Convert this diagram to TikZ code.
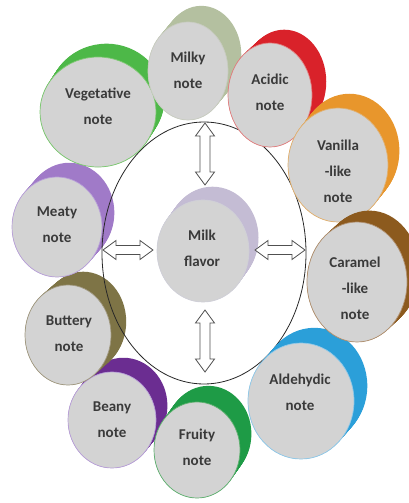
\documentclass[tikz,border=0pt]{standalone}
\usepackage{fontspec}
\setmainfont{Carlito}
\usetikzlibrary{shapes.geometric,calc}
\definecolor{frontgray}{RGB}{211,211,211}
\definecolor{txtcol}{RGB}{58,58,58}
\definecolor{ringcol}{RGB}{40,40,40}
\definecolor{arrcol}{RGB}{80,80,80}
\definecolor{milkycol}{RGB}{180,192,160}
\definecolor{milkybd}{RGB}{200,204,192}
\definecolor{acidcol}{RGB}{217,34,42}
\definecolor{acidbd}{RGB}{224,128,128}
\definecolor{vegcol}{RGB}{77,184,72}
\definecolor{vegbd}{RGB}{124,200,112}
\definecolor{vancol}{RGB}{232,150,44}
\definecolor{vanbd}{RGB}{224,176,112}
\definecolor{meatcol}{RGB}{160,122,200}
\definecolor{meatbd}{RGB}{184,160,216}
\definecolor{milkcol}{RGB}{196,188,212}
\definecolor{milkbd}{RGB}{208,208,216}
\definecolor{carcol}{RGB}{140,90,30}
\definecolor{carbd}{RGB}{176,144,112}
\definecolor{butcol}{RGB}{126,116,70}
\definecolor{butbd}{RGB}{160,152,128}
\definecolor{beancol}{RGB}{107,45,145}
\definecolor{beanbd}{RGB}{184,160,216}
\definecolor{fruitcol}{RGB}{30,155,70}
\definecolor{fruitbd}{RGB}{96,176,112}
\definecolor{aldcol}{RGB}{43,159,217}
\definecolor{aldbd}{RGB}{144,200,232}
% #1 name, #2 cx, #3 cy, #4 rx, #5 ry, #6 dx, #7 dy, #8 back colour, #9 rim colour
\newcommand\flavcyl[9]{%
  \foreach \t in {0,0.05,...,1.0}{%
    \fill[#8] (#2+\t*#6,#3+\t*#7) ellipse [x radius=#4pt, y radius=#5pt];}
  \node[frontdisc, draw=#9, minimum width=2*#4pt, minimum height=2*#5pt] (#1) at (#2,#3) {};
}
% vertical block double arrow from #1 (top) to #2 (bottom)
\newcommand\vdarrow[2]{%
  \draw[blockarr] (#1) -- ($(#1)+(9.5,13)$) -- ($(#1)+(5,13)$) -- ($(#2)+(5,-13)$)
    -- ($(#2)+(9.5,-13)$) -- (#2) -- ($(#2)+(-9.5,-13)$) -- ($(#2)+(-5,-13)$)
    -- ($(#1)+(-5,13)$) -- ($(#1)+(-9.5,13)$) -- cycle;}
% horizontal block double arrow from #1 (left) to #2 (right)
\newcommand\hdarrow[2]{%
  \draw[blockarr] (#1) -- ($(#1)+(13,-9.5)$) -- ($(#1)+(13,-4.5)$) -- ($(#2)+(-13,-4.5)$)
    -- ($(#2)+(-13,-9.5)$) -- (#2) -- ($(#2)+(-13,9.5)$) -- ($(#2)+(-13,4.5)$)
    -- ($(#1)+(13,4.5)$) -- ($(#1)+(13,9.5)$) -- cycle;}
\begin{document}
\begin{tikzpicture}[x=1pt,y=-1pt,
  frontdisc/.style={ellipse, fill=frontgray, line width=0.7pt, inner sep=0pt, outer sep=0pt},
  lbl/.style={align=center, text=txtcol, font=\fontsize{15}{26}\selectfont\bfseries, inner sep=0pt},
  blockarr/.style={draw=arrcol, fill=white, line width=0.8pt, line join=miter},
  ring/.style={ellipse, draw=ringcol, line width=0.8pt, inner sep=0pt, outer sep=0pt,
    minimum width=204pt, minimum height=262pt}]
\useasboundingbox[fill=white] (0,0) rectangle (409,503);
% lower-left group
\flavcyl{beany}{112}{420}{44}{48}{12}{-15}{beancol}{beanbd}
\flavcyl{buttery}{68}{335}{43}{50}{16}{-14}{butcol}{butbd}
\flavcyl{meaty}{57}{227}{45}{50}{13}{-15}{meatcol}{meatbd}
\flavcyl{fruity}{197}{450}{43}{48}{12}{-17}{fruitcol}{fruitbd}
% central ring
\node[ring] (ring) at (204,253) {};
% upper and right group
\flavcyl{veg}{98}{112}{58}{55}{9}{-14}{vegcol}{vegbd}
\flavcyl{milky}{188}{71}{40}{49}{14}{-17}{milkycol}{milkybd}
\flavcyl{acidic}{270}{95}{42}{52}{15}{-14}{acidcol}{acidbd}
\flavcyl{vanilla}{338}{165}{50}{57}{12}{-15}{vancol}{vanbd}
\flavcyl{ald}{301}{401}{53}{58}{14}{-16}{aldcol}{aldbd}
\flavcyl{caramel}{357}{282}{50}{60}{13}{-12}{carcol}{carbd}
\flavcyl{milk}{203}{251}{46}{51}{10}{-14}{milkcol}{milkbd}
% labels
\node[lbl] (tmilky) at (188,70) {Milky\\note};
\node[lbl] (tacidic) at (270,92) {Acidic\\note};
\node[lbl] (tveg) at (98,106) {Vegetative\\note};
\node[lbl] (tvanilla) at (338,171.5) {Vanilla\\-like\\note};
\node[lbl] (tmeaty) at (57,224.5) {Meaty\\note};
\node[lbl] (tmilk) at (202,248.5) {Milk\\flavor};
\node[lbl] (tcaramel) at (355,288.5) {Caramel\\-like\\note};
\node[lbl] (tbuttery) at (69,334) {Buttery\\note};
\node[lbl] (tbeany) at (112,419.5) {Beany\\note};
\node[lbl] (tfruity) at (197,447.5) {Fruity\\note};
\node[lbl] (tald) at (300,392.5) {Aldehydic\\note};
% arrow end points, tied to the ring and the centre node
\coordinate (at1) at ($(ring.north)+(1,1)$);
\coordinate (at2) at ($(milk.north)+(2,-15)$);
\coordinate (ab1) at ($(milk.south)+(2,8)$);
\coordinate (ab2) at ($(ring.south)+(1,-12)$);
\coordinate (al1) at ($(ring.west)+(1,-3)$);
\coordinate (al2) at ($(milk.west)+(-4,-1)$);
\coordinate (ar1) at ($(milk.east)+(6,-1)$);
\coordinate (ar2) at ($(ring.east)+(-1,-3)$);
\vdarrow{at1}{at2}
\vdarrow{ab1}{ab2}
\hdarrow{al1}{al2}
\hdarrow{ar1}{ar2}
\end{tikzpicture}
\end{document}
